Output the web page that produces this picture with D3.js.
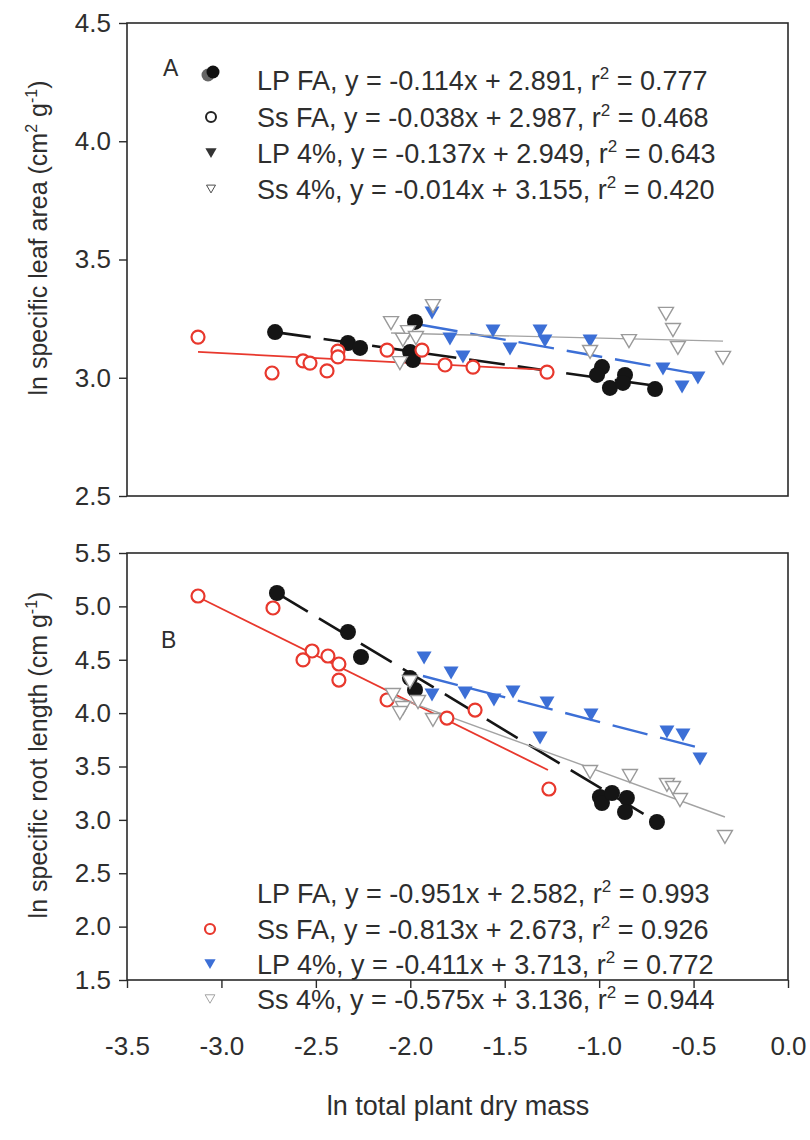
<!DOCTYPE html>
<html>
<head>
<meta charset="utf-8">
<script src="https://cdn.jsdelivr.net/npm/d3@7"></script>
<style>
  body { margin: 0; background: #fff; }
  svg text { font-family: "Liberation Sans", Arial, sans-serif; fill: #2e2e2e; }
</style>
</head>
<body>
<svg id="chart" width="810" height="1140"></svg>
<script>
// tick labels
var xTicks = [-3.5, -3.0, -2.5, -2.0, -1.5, -1.0, -0.5, 0.0];
var slaTicks = [2.5, 3.0, 3.5, 4.0, 4.5];
var srlTicks = [1.5, 2.0, 2.5, 3.0, 3.5, 4.0, 4.5, 5.0, 5.5];

var seriesNames = ['LP FA', 'Ss FA', 'LP 4%', 'Ss 4%'];

// panel A : ln specific leaf area
var slaLpFaX = [-2.716, -2.330, -2.266, -1.975, -2.001, -1.986, -0.985, -1.011, -0.943, -0.863, -0.874, -0.704];
var slaLpFaY = [3.193, 3.147, 3.126, 3.236, 3.109, 3.075, 3.045, 3.012, 2.957, 3.012, 2.978, 2.952];
var slaSsFaX = [-3.124, -2.732, -2.568, -2.531, -2.441, -2.383, -2.383, -2.123, -1.938, -1.816, -1.668, -1.276];
var slaSsFaY = [3.172, 3.020, 3.071, 3.062, 3.029, 3.113, 3.088, 3.117, 3.117, 3.054, 3.045, 3.024];
var slaLp4X = [-1.885, -1.790, -1.721, -1.562, -1.472, -1.313, -1.287, -1.048, -0.662, -0.561, -0.477];
var slaLp4Y = [3.274, 3.164, 3.088, 3.198, 3.122, 3.198, 3.155, 3.155, 3.037, 2.961, 2.999];
var slaSs4X = [-2.102, -2.012, -2.039, -1.970, -2.055, -1.880, -1.048, -0.842, -0.646, -0.609, -0.583, -0.344];
var slaSs4Y = [3.231, 3.193, 3.160, 3.168, 3.062, 3.303, 3.109, 3.155, 3.270, 3.202, 3.126, 3.084];

// fitted line ends, panel A
var slaFitX = [[-2.716, -0.731], [-3.124, -1.276], [-1.938, -0.450], [-2.102, -0.344]];
var slaFitY = [[3.193, 2.969], [3.109, 3.033], [3.223, 3.012], [3.189, 3.155]];
var slaEquations = ['y = -0.114x + 2.891', 'y = -0.038x + 2.987', 'y = -0.137x + 2.949', 'y = -0.014x + 3.155'];
var slaR2 = ['0.777', '0.468', '0.643', '0.420'];

// panel B : ln specific root length
var srlLpFaX = [-2.706, -2.330, -2.261, -2.002, -1.975, -0.996, -0.985, -0.932, -0.853, -0.863, -0.694];
var srlLpFaY = [5.125, 4.760, 4.526, 4.329, 4.217, 3.214, 3.158, 3.252, 3.205, 3.074, 2.980];
var srlSsFaX = [-3.124, -2.727, -2.520, -2.568, -2.436, -2.378, -2.378, -2.123, -1.806, -1.657, -1.266];
var srlSsFaY = [5.097, 4.985, 4.582, 4.498, 4.535, 4.460, 4.310, 4.123, 3.954, 4.029, 3.289];
var srlLp4X = [-1.927, -1.784, -1.885, -1.710, -1.557, -1.456, -1.276, -1.043, -1.313, -0.641, -0.556, -0.466];
var srlLp4Y = [4.516, 4.376, 4.170, 4.189, 4.123, 4.198, 4.095, 3.982, 3.767, 3.823, 3.795, 3.570];
var srlSs4X = [-2.002, -2.092, -1.959, -2.039, -2.055, -1.880, -1.048, -0.837, -0.641, -0.609, -0.572, -0.334];
var srlSs4Y = [4.292, 4.170, 4.104, 4.048, 4.001, 3.936, 3.448, 3.411, 3.327, 3.299, 3.186, 2.840];

var srlFitX = [[-2.706, -0.694], [-3.124, -1.271], [-1.933, -0.466], [-2.134, -0.334]];
var srlFitY = [[5.125, 2.980], [5.088, 3.467], [4.348, 3.673], [4.188, 3.027]];
var srlEquations = ['y = -0.951x + 2.582', 'y = -0.813x + 2.673', 'y = -0.411x + 3.713', 'y = -0.575x + 3.136'];
var srlR2 = ['0.993', '0.926', '0.772', '0.944'];

var svg = d3.select('#chart');

var x = d3.scaleLinear().domain([-3.5, 0]).range([127, 788]);
var yA = d3.scaleLinear().domain([2.5, 4.5]).range([496, 23]);
var yB = d3.scaleLinear().domain([1.5, 5.5]).range([980, 553]);

// marker + line style per series
var styles = [
    { shape: 'circle', fill: '#151515', stroke: 'none', sw: 0, line: '#151515', lw: 2.6, dash: '36,13' },
    { shape: 'circle', fill: '#fff', stroke: '#e8382d', sw: 2.2, line: '#e8382d', lw: 1.8, dash: null },
    { shape: 'tri', fill: '#3c6fd6', stroke: 'none', sw: 0, line: '#3c6fd6', lw: 2.4, dash: '36,13' },
    { shape: 'tri', fill: '#fff', stroke: '#9a9a9a', sw: 1.4, line: '#a3a3a3', lw: 1.4, dash: null }
];

var triPath = 'M-7.5,-6.5L7.5,-6.5L0,6.5Z';

function addMarker(g, px, py, st, r) {
    if (st.shape === 'circle') {
        g.append('circle')
            .attr('cx', px).attr('cy', py)
            .attr('r', r || (st.fill === '#fff' ? 6.5 : 8))
            .attr('fill', st.fill)
            .attr('stroke', st.stroke)
            .attr('stroke-width', st.sw);
    } else {
        g.append('path')
            .attr('d', triPath)
            .attr('transform', 'translate(' + px + ',' + py + ')' + (r ? ' scale(' + r + ')' : ''))
            .attr('fill', st.fill)
            .attr('stroke', st.stroke)
            .attr('stroke-width', st.sw);
    }
}

function drawPanel(y, ticks, xs, ys, fitX, fitY) {
    var g = svg.append('g');

    g.append('rect')
        .attr('x', x(-3.5))
        .attr('y', y(ticks[ticks.length - 1]))
        .attr('width', x(0) - x(-3.5))
        .attr('height', y(ticks[0]) - y(ticks[ticks.length - 1]))
        .attr('fill', 'none')
        .attr('stroke', '#2a2a2a')
        .attr('stroke-width', 1.6);

    var yAxis = g.append('g')
        .attr('transform', 'translate(' + x(-3.5) + ',0)')
        .call(d3.axisLeft(y).tickValues(ticks).tickSize(8).tickPadding(8)
            .tickFormat(function(d) { return d.toFixed(1); }));
    yAxis.select('.domain').remove();
    yAxis.selectAll('line').attr('stroke', '#2a2a2a').attr('stroke-width', 1.4);
    yAxis.selectAll('text').style('font-size', '26px').attr('fill', '#2e2e2e');

    var line = d3.line()
        .x(function(d) { return x(d[0]); })
        .y(function(d) { return y(d[1]); });

    for (var i = 0; i < 4; i++) {
        var st = styles[i];
        var pts = [[fitX[i][0], fitY[i][0]], [fitX[i][1], fitY[i][1]]];
        g.append('path')
            .attr('d', line(pts))
            .attr('fill', 'none')
            .attr('stroke', st.line)
            .attr('stroke-width', st.lw)
            .attr('stroke-dasharray', st.dash);
    }

    for (var i = 0; i < 4; i++) {
        var mg = g.append('g');
        for (var j = 0; j < xs[i].length; j++) {
            addMarker(mg, x(xs[i][j]), y(ys[i][j]), styles[i]);
        }
    }
    return g;
}

function legendText(g, tx, ty, name, eq, r2) {
    var t = g.append('text')
        .attr('x', tx).attr('y', ty)
        .style('font-size', '27px');
    t.append('tspan').text(name + ', ' + eq + ', r');
    t.append('tspan').attr('dy', -11).style('font-size', '17px').text('2');
    t.append('tspan').attr('dy', 11).text(' = ' + r2);
}

// panel A
var gA = drawPanel(yA, slaTicks,
    [slaLpFaX, slaSsFaX, slaLp4X, slaSs4X],
    [slaLpFaY, slaSsFaY, slaLp4Y, slaSs4Y],
    slaFitX, slaFitY);

gA.append('text').attr('x', 163).attr('y', 76).style('font-size', '23px').text('A');

var legA = gA.append('g');
var rowsA = [90, 127, 163, 199];
// legend symbols in panel A are printed black
legA.append('circle').attr('cx', 208).attr('cy', 75).attr('r', 6.5).attr('fill', '#666');
legA.append('circle').attr('cx', 213).attr('cy', 72).attr('r', 6.5).attr('fill', '#111');
legA.append('circle').attr('cx', 211).attr('cy', 117).attr('r', 5).attr('fill', '#fff')
    .attr('stroke', '#222').attr('stroke-width', 2);
addMarker(legA, 211, 153, { shape: 'tri', fill: '#333', stroke: 'none', sw: 0 }, 0.75);
addMarker(legA, 211, 189, { shape: 'tri', fill: '#fff', stroke: '#444', sw: 1.6 }, 0.6);
for (var i = 0; i < 4; i++) {
    legendText(legA, 257, rowsA[i], seriesNames[i], slaEquations[i], slaR2[i]);
}

// panel B
var gB = drawPanel(yB, srlTicks,
    [srlLpFaX, srlSsFaX, srlLp4X, srlSs4X],
    [srlLpFaY, srlSsFaY, srlLp4Y, srlSs4Y],
    srlFitX, srlFitY);

gB.append('text').attr('x', 161).attr('y', 648).style('font-size', '23px').text('B');

var legB = gB.append('g');
var rowsB = [903, 939, 974, 1009];
legB.append('circle').attr('cx', 210).attr('cy', 929).attr('r', 5).attr('fill', '#fff')
    .attr('stroke', '#e8382d').attr('stroke-width', 2.2);
addMarker(legB, 210, 964, styles[2], 0.75);
addMarker(legB, 210, 999, styles[3], 0.65);
for (var i = 0; i < 4; i++) {
    legendText(legB, 257, rowsB[i], seriesNames[i], srlEquations[i], srlR2[i]);
}

// x axis only under panel B
var xAxis = svg.append('g')
    .attr('transform', 'translate(0,' + yB(1.5) + ')')
    .call(d3.axisBottom(x).tickValues(xTicks).tickSize(8).tickPadding(49)
        .tickFormat(function(d) { return d.toFixed(1); }));
xAxis.select('.domain').remove();
xAxis.selectAll('line').attr('stroke', '#2a2a2a').attr('stroke-width', 1.4);
xAxis.selectAll('text').style('font-size', '26px').attr('fill', '#2e2e2e');

// axis titles
svg.append('text')
    .attr('x', 458).attr('y', 1115)
    .attr('text-anchor', 'middle')
    .style('font-size', '27px')
    .text('ln total plant dry mass');

var titleA = svg.append('text')
    .attr('transform', 'translate(47,238) rotate(-90)')
    .attr('text-anchor', 'middle')
    .style('font-size', '25px');
titleA.append('tspan').text('ln specific leaf area (cm');
titleA.append('tspan').attr('dy', -10).style('font-size', '16px').text('2');
titleA.append('tspan').attr('dy', 10).text(' g');
titleA.append('tspan').attr('dy', -10).style('font-size', '16px').text('-1');
titleA.append('tspan').attr('dy', 10).text(')');

var titleB = svg.append('text')
    .attr('transform', 'translate(47,755) rotate(-90)')
    .attr('text-anchor', 'middle')
    .style('font-size', '25px');
titleB.append('tspan').text('ln specific root length (cm g');
titleB.append('tspan').attr('dy', -10).style('font-size', '16px').text('-1');
titleB.append('tspan').attr('dy', 10).text(')');
</script>
</body>
</html>
